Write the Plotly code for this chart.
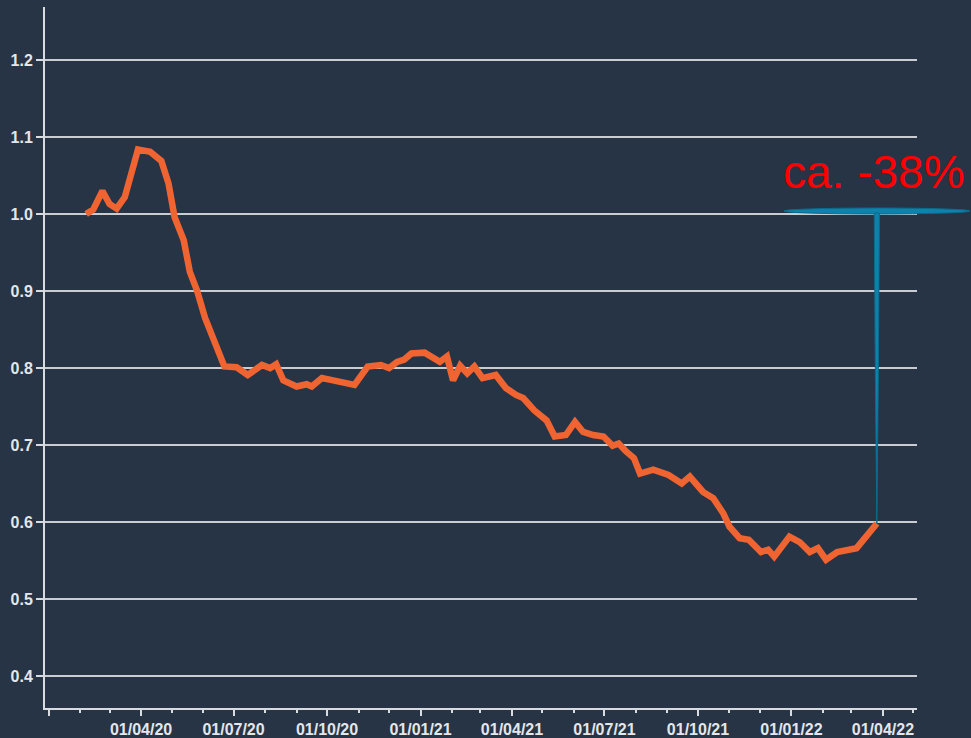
import plotly.graph_objects as go
import pandas as pd

dates = ["2020-02-07","2020-02-14","2020-02-23","2020-03-01","2020-03-08","2020-03-16","2020-03-29",
         "2020-04-10","2020-04-21","2020-04-28","2020-05-04","2020-05-13","2020-05-19","2020-05-26",
         "2020-06-03","2020-06-13","2020-06-22","2020-07-04","2020-07-15","2020-07-29","2020-08-06",
         "2020-08-12","2020-08-19","2020-09-01","2020-09-11","2020-09-16","2020-09-26","2020-10-07",
         "2020-10-17","2020-10-28","2020-11-10","2020-11-23","2020-12-01","2020-12-09","2020-12-16",
         "2020-12-23","2021-01-05","2021-01-20","2021-01-27","2021-02-02","2021-02-09","2021-02-16",
         "2021-02-23","2021-03-03","2021-03-16","2021-03-26","2021-04-05","2021-04-12","2021-04-23",
         "2021-05-05","2021-05-13","2021-05-24","2021-06-02","2021-06-10","2021-06-20","2021-06-30",
         "2021-07-09","2021-07-15","2021-07-22","2021-07-30","2021-08-05","2021-08-18","2021-09-02",
         "2021-09-15","2021-09-23","2021-10-06","2021-10-16","2021-10-26","2021-11-01","2021-11-11",
         "2021-11-20","2021-11-27","2021-12-02","2021-12-09","2021-12-15","2021-12-30","2022-01-09",
         "2022-01-19","2022-01-27","2022-02-04","2022-02-15","2022-03-06","2022-03-16","2022-03-26"]
values = [1.000,1.006,1.030,1.013,1.007,1.022,1.084,
          1.081,1.069,1.040,0.996,0.966,0.925,0.901,
          0.865,0.832,0.802,0.801,0.791,0.804,0.800,
          0.805,0.784,0.776,0.779,0.776,0.787,0.784,
          0.782,0.778,0.802,0.804,0.800,0.808,0.811,
          0.819,0.820,0.808,0.815,0.784,0.803,0.793,
          0.802,0.787,0.791,0.774,0.765,0.761,0.745,
          0.732,0.711,0.713,0.730,0.717,0.713,0.711,
          0.699,0.702,0.692,0.683,0.663,0.668,0.661,
          0.650,0.659,0.639,0.631,0.611,0.594,0.579,
          0.577,0.568,0.561,0.564,0.555,0.581,0.574,
          0.561,0.566,0.551,0.561,0.566,0.583,0.598]

tick_dates = ["2020-01-01","2020-04-01","2020-07-01","2020-10-01","2021-01-01",
              "2021-04-01","2021-07-01","2021-10-01","2022-01-01","2022-04-01"]
tick_labels = ["","01/04/20","01/07/20","01/10/20","01/01/21",
               "01/04/21","01/07/21","01/10/21","01/01/22","01/04/22"]
y_ticks = [0.4,0.5,0.6,0.7,0.8,0.9,1.0,1.1,1.2]
y_labels = ["0.4","0.5","0.6","0.7","0.8","0.9","1.0","1.1","1.2"]
annotation_text = "ca. -38%"
reference_value = 1.0

BG = "#263445"
W, H = 971, 738
ML, MR, MT, MB = 45, 54, 7, 30
x_range = ["2019-12-28 12:00", "2022-05-04 12:00"]
y_range = [0.3584, 1.269]

pw = W - ML - MR
ph = H - MT - MB
px2paper_x = lambda px: (px - ML) / pw
px2paper_y = lambda py: (H - MB - py) / ph
r0, r1 = pd.Timestamp(x_range[0]), pd.Timestamp(x_range[1])
def date_to_paper(d):
    return (pd.Timestamp(d) - r0) / (r1 - r0)
def val_to_paper(v):
    return (v - y_range[0]) / (y_range[1] - y_range[0])

fig = go.Figure()
fig.add_trace(go.Scatter(x=dates, y=values, mode="lines",
                         line=dict(color="#EF6431", width=6.5), hoverinfo="skip",
                         showlegend=False))

xc = date_to_paper(dates[-1])
y_top = val_to_paper(reference_value + 0.004)
y_end = val_to_paper(values[-1])
dx = 1.0 / pw   # one pixel in paper units
dy = 1.0 / ph

shapes = []
# horizontal lens (T cap)
shapes.append(dict(type="circle", xref="paper", yref="paper",
                   x0=xc - 93 * dx, x1=xc + 93 * dx,
                   y0=y_top - 3.0 * dy, y1=y_top + 3.0 * dy,
                   fillcolor="#0F82AC", line=dict(color="#0B6B8E", width=1), layer="above"))
# vertical tapered stroke
top = y_top - 2 * dy
path = (f"M {xc - 2.6*dx},{top} L {xc + 2.6*dx},{top} "
        f"Q {xc + 1.8*dx},{(top + y_end)/2} {xc},{y_end} "
        f"Q {xc - 1.8*dx},{(top + y_end)/2} {xc - 2.6*dx},{top} Z")
shapes.append(dict(type="path", xref="paper", yref="paper", path=path,
                   fillcolor="#0F82AC", line=dict(color="#0B6B8E", width=1), layer="above"))

tick_font = dict(family="Liberation Sans, Arial", size=16, color="#E4E6EA", weight="bold")

fig.update_layout(
    width=W, height=H,
    margin=dict(l=ML, r=MR, t=MT, b=MB, autoexpand=False),
    paper_bgcolor=BG, plot_bgcolor=BG,
    shapes=shapes,
    annotations=[dict(text=annotation_text, xref="paper", yref="paper",
                      x=px2paper_x(782), y=px2paper_y(172), xanchor="left", yanchor="middle",
                      showarrow=False, borderpad=0,
                      font=dict(family="Liberation Sans, Arial", size=46, color="#FF0000"))],
    xaxis=dict(type="date", range=x_range, tickmode="array", tickvals=tick_dates,
               ticktext=tick_labels, showgrid=False, zeroline=False, automargin=False,
               showline=True, linecolor="#D8DCE0", linewidth=2,
               ticks="outside", ticklen=6, tickwidth=2, tickcolor="#D8DCE0",
               tickfont=tick_font,
               minor=dict(dtick="M1", tick0="2020-01-01", ticks="outside", ticklen=3,
                          tickwidth=2, tickcolor="#D8DCE0", showgrid=False)),
    yaxis=dict(range=y_range, tickmode="array", tickvals=y_ticks, ticktext=y_labels,
               showgrid=True, gridcolor="#C9CDD2", gridwidth=2, zeroline=False, automargin=False,
               showline=True, linecolor="#D8DCE0", linewidth=2,
               ticks="outside", ticklen=7, tickwidth=2, tickcolor="#D8DCE0",
               tickfont=tick_font),
)

fig.write_html("out.html", config={"displayModeBar": False},
               post_script="document.body.style.margin='0';document.body.style.overflow='hidden';")
